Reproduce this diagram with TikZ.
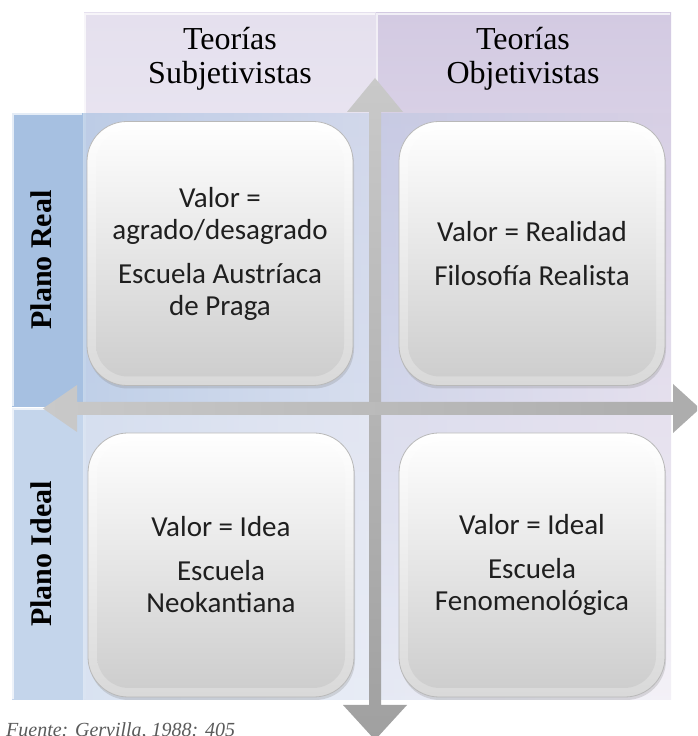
\documentclass[tikz,border=0pt]{standalone}
\usepackage{fontspec}
\setmainfont{Liberation Serif}
\newfontfamily\carlito{Carlito}
\usetikzlibrary{fadings,shadows,calc}
\definecolor{lavL}{HTML}{E5E0EE}
\definecolor{lavR}{HTML}{D3CAE2}
\definecolor{blueA}{HTML}{A6C0E1}
\definecolor{blueB}{HTML}{C4D5EB}
\definecolor{arrowA}{HTML}{C9C9C9}
\definecolor{arrowB}{HTML}{A0A0A0}
\definecolor{capgray}{HTML}{5A5A5A}
\tikzset{
  qbox/.style={rounded corners=40pt, minimum width=266pt, minimum height=264pt,
    draw=gray!55, line width=0.8pt, top color=white, bottom color=gray!30,
    drop shadow={shadow xshift=1pt,shadow yshift=-3pt,opacity=0.25},
    align=center, font=\carlito\fontsize{29}{32}\selectfont, text=black!88,
    path picture={\shade[rounded corners=32pt, top color=white, bottom color=gray!40]
      ([shift={(9pt,-9pt)}]path picture bounding box.north west) rectangle
      ([shift={(-9pt,9pt)}]path picture bounding box.south east);}},
  hdr/.style={align=center, font=\fontsize{32}{34}\selectfont, text=black},
  rowtxt/.style={rotate=90, font=\bfseries\fontsize{30}{34}\selectfont, text=black},
  bevel/.style={draw=white, draw opacity=0.7, line width=1.5pt}
}
\begin{document}
\begin{tikzpicture}[x=1pt,y=1pt]
\useasboundingbox (0,0) rectangle (697,736);
\clip (0,0) rectangle (697,736);
\fill[white] (0,0) rectangle (697,736);
% columns
\shade[top color=lavL, bottom color=lavL!25] (84,36) rectangle (376,723);
\shade[top color=lavR, bottom color=lavR!25] (376,36) rectangle (671,723);
\draw[bevel] (85,37) -- (85,722) -- (375,722);
\draw[bevel] (377,37) -- (377,722) -- (670,722);
% row bands
\fill[blueA, path fading=east, fill opacity=0.65] (83,329) rectangle (671,623);
\fill[blueB, path fading=east, fill opacity=0.6] (83,36) rectangle (671,328);
\fill[blueA] (12,329) rectangle (83,623);
\fill[blueB] (12,36) rectangle (83,328);
\draw[bevel] (13,330) -- (13,622) -- (82,622);
\draw[bevel] (13,37) -- (13,327) -- (82,327);
% header texts
\node[hdr] (hs) at (230,677) {Teorías\\Subjetivistas};
\node[hdr] (ho) at (523,677) {Teorías\\Objetivistas};
\node[rowtxt] (pr) at (41,476) {Plano Real};
\node[rowtxt] (pi) at (41,182) {Plano Ideal};
% axes
\coordinate (vt) at (375,658);
\coordinate (vb) at (375,-4);
\coordinate (hl) at (43,327.5);
\coordinate (hr) at (700,327.5);
\shade[top color=arrowA, bottom color=arrowB]
  (vt) -- ++(28,-34) -- ++(-22,0) -- (381,31) -- (407,31) -- (vb)
  -- (343,31) -- (369,31) -- (369,624) -- (347,624) -- cycle;
\shade[left color=arrowA, right color=arrowB!70!arrowA]
  (hl) -- (77,351) -- (77,334) -- (673,334) -- (673,352) -- (hr)
  -- (673,303) -- (673,321) -- (77,321) -- (77,304) -- cycle;
% boxes
\node[qbox] (tl) at (220,482.5) {Valor =\\agrado/desagrado\\[12pt]Escuela Austríaca\\de Praga};
\node[qbox] (tr) at (532,482.5) {Valor = Realidad\\[12pt]Filosofía Realista};
\node[qbox] (bl) at (221,171) {Valor = Idea\\[12pt]Escuela\\Neokantiana};
\node[qbox] (br) at (532,171) {Valor = Ideal\\[12pt]Escuela\\Fenomenológica};
% caption
\node[anchor=base west, inner sep=0pt, font=\itshape\fontsize{20}{22}\selectfont, text=capgray] (cap) at (6,-1) {Fuente: Gervilla, 1988: 405};
\end{tikzpicture}
\end{document}
